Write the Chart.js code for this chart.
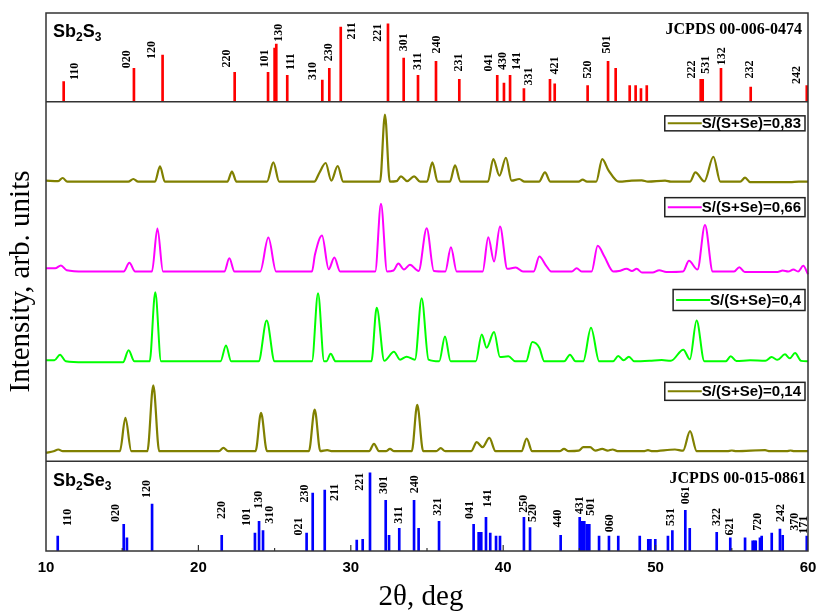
<!DOCTYPE html>
<html>
<head>
<meta charset="utf-8">
<script src="https://cdn.jsdelivr.net/npm/chart.js@4.4.1/dist/chart.umd.min.js"></script>
<style>
  body { margin: 0; background: #fff; }
  #xrd { display: block; }
</style>
</head>
<body>
<canvas id="xrd" width="819" height="611"></canvas>
<script>
// x axis ticks (2theta, deg)
const xTicks = [10, 20, 30, 40, 50, 60];

// Sb2S3 reference, JCPDS 00-006-0474 (2theta, rel. intensity)
const s3Pos = [11.16, 15.77, 17.65, 22.38, 24.57, 25.00, 25.11, 25.83, 28.13, 28.59, 29.34, 32.44, 33.47, 34.41,
  35.59, 37.12, 39.61, 40.05, 40.45, 41.36, 43.07, 43.38, 45.54, 46.88, 47.38, 48.30, 48.69, 49.04, 49.42,
  52.96, 53.09, 54.29, 56.24, 59.92];
const s3Int = [26, 43, 60, 38, 38, 69, 74, 34, 28, 43, 96, 100, 56, 34,
  52, 29, 34, 24, 34, 17, 29, 23, 21, 52, 43, 21, 21, 17, 21,
  29, 29, 43, 19, 21];
const s3Labels = [['110', 11.90, 28], ['020', 15.34, 43], ['120', 16.95, 55], ['220', 21.90, 44], ['101', 24.37, 44],
  ['130', 25.27, 77], ['111', 26.05, 41], ['310', 27.54, 28], ['230', 28.59, 52], ['211', 30.06, 80], ['221', 31.81, 77],
  ['301', 33.51, 65], ['311', 34.43, 41], ['240', 35.63, 62], ['231', 37.12, 39], ['041', 39.09, 39], ['430', 40.01, 41],
  ['141', 40.93, 41], ['331', 41.71, 21], ['421', 43.42, 35], ['520', 45.59, 30], ['501', 46.83, 62], ['222', 52.37, 30],
  ['531', 53.28, 36], ['132', 54.33, 47], ['232', 56.19, 30], ['242', 59.26, 23]];

// Sb2Se3 reference, JCPDS 00-015-0861
const se3Pos = [10.77, 15.10, 15.31, 16.96, 21.53, 23.71, 23.98, 24.24, 27.10, 27.50, 28.29, 30.39, 30.78, 31.26,
  32.29, 32.51, 33.18, 34.15, 34.45, 35.79, 38.06, 38.39, 38.56, 38.87, 39.15, 39.53, 39.79, 41.36, 41.76,
  43.77, 45.02, 45.17, 45.32, 45.48, 45.65, 46.29, 46.94, 47.55, 48.96, 49.52, 49.66, 49.98, 50.81, 51.10,
  51.95, 52.24, 54.01, 54.90, 55.87, 56.37, 56.48, 56.57, 56.85, 56.96, 57.62, 58.16, 58.34, 59.92];
const se3Int = [19, 34, 17, 60, 20, 23, 38, 26, 23, 74, 78, 14, 15, 100,
  65, 20, 29, 65, 29, 38, 34, 24, 24, 43, 23, 19, 19, 43, 30,
  20, 43, 38, 38, 34, 34, 19, 19, 19, 19, 15, 15, 15, 19, 26,
  52, 29, 24, 17, 17, 13, 13, 13, 17, 19, 23, 28, 20, 19];
const se3Labels = [['110', 11.46, 32], ['020', 14.59, 37], ['120', 16.61, 68], ['220', 21.53, 41], ['101', 23.17, 32],
  ['130', 23.98, 54], ['310', 24.70, 35], ['021', 26.62, 20], ['230', 26.99, 62], ['211', 28.96, 64], ['221', 30.60, 77],
  ['301', 32.20, 73], ['311', 33.18, 35], ['240', 34.21, 74], ['321', 35.74, 45], ['041', 37.82, 41], ['141', 39.02, 56],
  ['250', 41.36, 49], ['520', 41.98, 37], ['440', 43.62, 30], ['431', 45.04, 47], ['501', 45.74, 45], ['060', 47.01, 24],
  ['531', 50.99, 32], ['061', 51.97, 60], ['322', 54.01, 32], ['621', 54.88, 20], ['720', 56.74, 26], ['242', 58.23, 37],
  ['370', 59.15, 26], ['171', 59.74, 22]];

const s083 = [[10, 1], [10.8, 0.5], [11.09, 3.7], [11.4, 0], [15.4, 0], [15.73, 2.7], [16.05, 0], [17.15, 0], [17.48, 15.3],
  [17.8, 0], [21.9, 0], [22.2, 10], [22.5, 0], [24.5, 0], [24.92, 19.3], [25.3, 0], [27.6, 0], [27.94, 9], [28.35, 18.7],
  [28.72, 1], [29.14, 15.7], [29.5, 0], [31.92, 0], [32.24, 67.3], [32.56, 0], [33.0, 0.5], [33.29, 5.3], [33.7, 0.5],
  [34.15, 5.3], [34.55, 0], [35.0, 0], [35.35, 19.3], [35.7, 0], [36.5, 0], [36.84, 16.3], [37.2, 0], [39.0, 0],
  [39.35, 22.7], [39.75, 6], [40.18, 24], [40.55, 1], [41.06, 2.7], [41.4, 0], [42.35, 0], [42.74, 9.3], [43.1, 0],
  [44.95, 0], [45.21, 2], [45.5, 0], [46.1, 0], [46.5, 22.7], [46.9, 11.7], [47.6, 0], [48.43, 1], [49.09, 1.3], [49.5, 0],
  [50.62, 1], [51.0, 0], [52.25, 0], [52.61, 9.3], [53.2, 0.3], [53.79, 25], [54.25, 0], [55.55, 0], [55.87, 4],
  [56.2, -0.5], [58.82, -0.5], [59.4, 0], [60, 0]];
const s066 = [[10, 3.3], [10.6, 3.3], [10.98, 6], [11.36, 1.3], [12.5, 0], [15.1, 0], [15.47, 8.7], [15.85, 0], [16.95, 0],
  [17.31, 43], [17.68, 0], [21.7, 0], [22.03, 13.3], [22.37, 0], [24.05, 0], [24.59, 34], [25.1, 0], [27.45, 0],
  [27.65, 17], [28.11, 36], [28.55, 2.3], [28.92, 14], [29.3, 0], [31.6, 0], [31.98, 68], [32.38, 0], [32.8, 1],
  [33.12, 8], [33.49, 2], [33.88, 6.7], [34.45, 0.5], [34.98, 43.3], [35.45, 0.5], [36.2, 0], [36.57, 24.3], [36.95, 0],
  [38.65, 0], [39.02, 34.3], [39.40, 10], [39.79, 45], [40.27, 2.7], [40.82, 4], [41.3, 0], [42.0, 0], [42.37, 15],
  [42.81, 6], [43.15, 0], [44.5, 0], [44.82, 3.3], [45.15, 0], [45.8, 0], [46.20, 25.7], [46.64, 15], [47.23, 0],
  [47.6, 0.5], [48.10, 2.7], [48.45, 0.5], [48.76, 2.7], [49.1, -1], [49.8, -1], [50.24, 1.3], [50.7, -0.5], [51.8, 0],
  [52.19, 10.7], [52.75, 2], [53.24, 46.7], [53.75, 0], [55.15, 0], [55.49, 4.3], [55.85, -0.5], [58.0, -0.5],
  [58.34, 1], [58.7, 0], [59.04, 2], [59.35, 0], [59.69, 5.7], [60, -2.7]];
const s04 = [[10, 1], [10.55, 1], [10.92, 6.7], [11.3, 0], [12.5, -1], [15.05, -1], [15.42, 11], [15.8, 0], [16.8, 0],
  [17.17, 69.3], [17.55, 0], [21.45, 0], [21.81, 16], [22.15, 0], [23.95, 0], [24.48, 41], [25.0, 0], [27.45, 0],
  [27.85, 68.3], [28.25, 0], [28.4, 0], [28.68, 7.7], [29.0, 0], [31.35, 0], [31.70, 53.7], [32.2, 0.5], [32.83, 9.7],
  [33.23, 1.7], [33.66, 4.7], [34.21, 1.7], [34.65, 63.3], [35.1, 1.7], [35.8, 0], [36.18, 25], [36.55, 0], [38.2, 0],
  [38.59, 27], [38.91, 13.7], [39.40, 29.3], [39.79, 4.3], [40.34, 5], [40.8, 0], [41.5, 0], [41.91, 19.3], [42.37, 13.7],
  [42.7, 0], [44.0, 0], [44.38, 6.7], [44.75, 0], [45.25, 0], [45.76, 33.7], [46.3, 0], [47.2, 0], [47.55, 5.3],
  [47.9, 1], [48.25, 4.7], [48.6, 0], [49.6, 0.5], [50.4, 1.3], [51.0, 0.5], [51.82, 11.7], [52.25, 2], [52.69, 41],
  [53.2, 0], [54.6, 0], [54.93, 5], [55.3, 0.3], [56.2, 1], [57.2, 0.5], [57.61, 4.3], [58.0, 1.5], [58.49, 7],
  [58.8, 3], [59.15, 8.3], [59.55, 0.5], [60, 0]];
const s014 = [[10, -1.7], [10.5, 0], [10.81, 1.7], [11.1, 0], [14.85, 0], [15.21, 33.3], [15.6, 0], [16.65, 0],
  [17.04, 66], [17.43, 0], [21.35, 0], [21.64, 3.3], [21.95, 0], [23.75, 0], [24.11, 38.3], [24.5, 0], [27.25, 0],
  [27.63, 41.7], [28.0, 0], [28.45, 1], [28.8, 0], [31.2, 0], [31.52, 7.3], [31.85, 0], [32.3, 0], [32.57, 2.3],
  [32.85, 0], [34.0, 0], [34.36, 46.3], [34.75, 0], [35.6, 0], [35.90, 3], [36.2, 0], [37.9, 0], [38.26, 9],
  [38.65, 4], [39.09, 13.3], [39.5, 0], [41.2, 0], [41.54, 12.7], [41.9, 0], [43.7, 0], [43.99, 2.3], [44.3, 0],
  [44.95, 0.5], [45.26, 4], [45.7, 4], [46.05, 0.5], [46.50, 2.3], [46.85, 0.5], [47.18, 1.7], [47.5, 0], [49.2, 0],
  [49.5, 1], [49.8, 0], [51.27, 1.7], [51.8, 0.5], [52.26, 20], [52.7, 0], [54.7, 0], [55.0, 0.7], [55.3, 0],
  [57.18, 1], [57.5, 0], [58.6, 0], [58.85, 0.7], [59.1, 0], [60, 0]];

const OLIVE = '#808000', MAGENTA = '#ff00ff', LIME = '#00ff00';
const serif = '"Liberation Serif", "Times New Roman", serif';
const sans = '"Liberation Sans", Arial, sans-serif';

const toXY = arr => arr.map(([x, y]) => ({ x, y }));
const sticks = (pos, val) => pos.map((x, i) => ({ x, y: val[i] }));

function patternSet(label, pts, color, axis, width) {
  return {
    type: 'line', label, data: toXY(pts), yAxisID: axis,
    borderColor: color, borderWidth: width, pointRadius: 0,
    cubicInterpolationMode: 'monotone', clip: false
  };
}

// legend boxes: which pattern, offset from band top, box height
const legendBoxes = [
  { axis: 'y083', top: 14, h: 15 },
  { axis: 'y066', top: 6, h: 19 },
  { axis: 'y04', top: 8, h: 21 },
  { axis: 'y014', top: 11, h: 18 }
];

function drawChem(ctx, parts, x, y) {
  parts.forEach(([t, sub]) => {
    ctx.font = sub ? 'bold 12px ' + sans : 'bold 18px ' + sans;
    ctx.fillText(t, x, sub ? y + 4 : y);
    x += ctx.measureText(t).width;
  });
}

const decorations = {
  id: 'decorations',
  afterDraw(chart) {
    const ctx = chart.ctx;
    const a = chart.chartArea;
    const sx = chart.scales.x;
    const yTop = chart.scales.yS3, yBot = chart.scales.ySe3;
    ctx.save();

    // frame and panel separators
    ctx.strokeStyle = '#333';
    ctx.lineWidth = 1.5;
    ctx.strokeRect(a.left, a.top, a.right - a.left, a.bottom - a.top);
    ctx.beginPath();
    ctx.moveTo(a.left, yTop.bottom); ctx.lineTo(a.right, yTop.bottom);
    ctx.moveTo(a.left, yBot.top); ctx.lineTo(a.right, yBot.top);
    ctx.stroke();

    // inward ticks on bottom axis
    ctx.lineWidth = 1.2;
    ctx.beginPath();
    for (let v = 15; v < 60; v += 5) {
      const px = sx.getPixelForValue(v);
      ctx.moveTo(px, a.bottom);
      ctx.lineTo(px, a.bottom - (v % 10 === 0 ? 6 : 3));
    }
    ctx.stroke();

    // hkl labels
    ctx.fillStyle = '#000';
    ctx.font = 'bold 12px ' + serif;
    ctx.textAlign = 'left';
    ctx.textBaseline = 'middle';
    [[s3Labels, yTop], [se3Labels, yBot]].forEach(([list, ys]) => {
      list.forEach(([t, x, v]) => {
        ctx.save();
        ctx.translate(sx.getPixelForValue(x), ys.getPixelForValue(v));
        ctx.rotate(-Math.PI / 2);
        ctx.fillText(t, 0, 0);
        ctx.restore();
      });
    });

    // panel titles
    ctx.textBaseline = 'alphabetic';
    drawChem(ctx, [['Sb', 0], ['2', 1], ['S', 0], ['3', 1]], a.left + 7, yTop.top + 24);
    drawChem(ctx, [['Sb', 0], ['2', 1], ['Se', 0], ['3', 1]], a.left + 7, yBot.top + 25);
    ctx.font = 'bold 16px ' + serif;
    ctx.textAlign = 'right';
    ctx.fillText('JCPDS 00-006-0474', a.right - 6, yTop.top + 21);
    ctx.fillText('JCPDS 00-015-0861', a.right - 2, yBot.top + 22);

    // legend boxes
    legendBoxes.forEach(b => {
      const ds = chart.data.datasets.find(d => d.yAxisID === b.axis);
      const ys = chart.scales[b.axis];
      ctx.font = 'bold 15px ' + sans;
      const tw = ctx.measureText(ds.label).width;
      const right = a.right - 3;
      const left = right - tw - 41;
      const top = ys.top + b.top;
      const mid = top + b.h / 2 + 1;
      ctx.fillStyle = '#fff';
      ctx.fillRect(left, top, right - left, b.h);
      ctx.strokeStyle = '#222';
      ctx.lineWidth = 1.5;
      ctx.strokeRect(left, top, right - left, b.h);
      ctx.strokeStyle = ds.borderColor;
      ctx.lineWidth = 2;
      ctx.beginPath();
      ctx.moveTo(left + 3, mid - 1); ctx.lineTo(left + 37, mid - 1);
      ctx.stroke();
      ctx.fillStyle = '#000';
      ctx.textAlign = 'left';
      ctx.textBaseline = 'middle';
      ctx.fillText(ds.label, left + 37, mid);
    });

    // axis titles
    ctx.fillStyle = '#000';
    ctx.font = '29px ' + serif;
    ctx.textAlign = 'center';
    ctx.textBaseline = 'middle';
    ctx.save();
    ctx.translate(21, (chart.scales.y083.top + chart.scales.y014.bottom) / 2);
    ctx.rotate(-Math.PI / 2);
    ctx.fillText('Intensity, arb. units', 0, 0);
    ctx.restore();
    ctx.font = '29px ' + serif;
    ctx.fillText('2\u03B8, deg', (a.left + a.right) / 2 - 6, 597);

    ctx.restore();
  }
};

const hiddenY = (min, max, weight) => ({
  display: false, stack: 'panels', stackWeight: weight, min, max
});

new Chart(document.getElementById('xrd'), {
  type: 'line',
  data: {
    datasets: [
      { type: 'bar', label: 'Sb2S3', data: sticks(s3Pos, s3Int), yAxisID: 'yS3',
        backgroundColor: '#ff0000', barThickness: 2, grouped: false },
      patternSet('S/(S+Se)=0,83', s083, OLIVE, 'y083', 2.2),
      patternSet('S/(S+Se)=0,66', s066, MAGENTA, 'y066', 2),
      patternSet('S/(S+Se)=0,4', s04, LIME, 'y04', 2),
      patternSet('S/(S+Se)=0,14', s014, OLIVE, 'y014', 2.2),
      { type: 'bar', label: 'Sb2Se3', data: sticks(se3Pos, se3Int), yAxisID: 'ySe3',
        backgroundColor: '#0000ff', barThickness: 2, grouped: false }
    ]
  },
  options: {
    responsive: false,
    animation: false,
    layout: { padding: { left: 46, right: 11, top: 13, bottom: 26 } },
    plugins: { legend: { display: false }, tooltip: { enabled: false } },
    scales: {
      x: {
        type: 'linear', min: 10, max: 60, offset: false,
        afterBuildTicks: axis => { axis.ticks = xTicks.map(v => ({ value: v })); },
        // edge labels fit inside the padding, so no extra room for them
        afterFit: axis => { axis.paddingLeft = 0; axis.paddingRight = 0; },
        grid: { display: false, drawTicks: false, offset: false },
        border: { display: false },
        ticks: { color: '#000', padding: 8, font: { family: sans, size: 15, weight: 'bold' } }
      },
      // listed bottom to top: left stacked boxes are laid out in reverse order
      ySe3: hiddenY(0, 115, 90),
      y014: hiddenY(-10, 80, 90),
      y04: hiddenY(-10, 80, 90),
      y066: hiddenY(-10, 80, 90),
      y083: hiddenY(-10, 80, 90),
      yS3: hiddenY(0, 114, 89)
    }
  },
  plugins: [decorations]
});
</script>
</body>
</html>
